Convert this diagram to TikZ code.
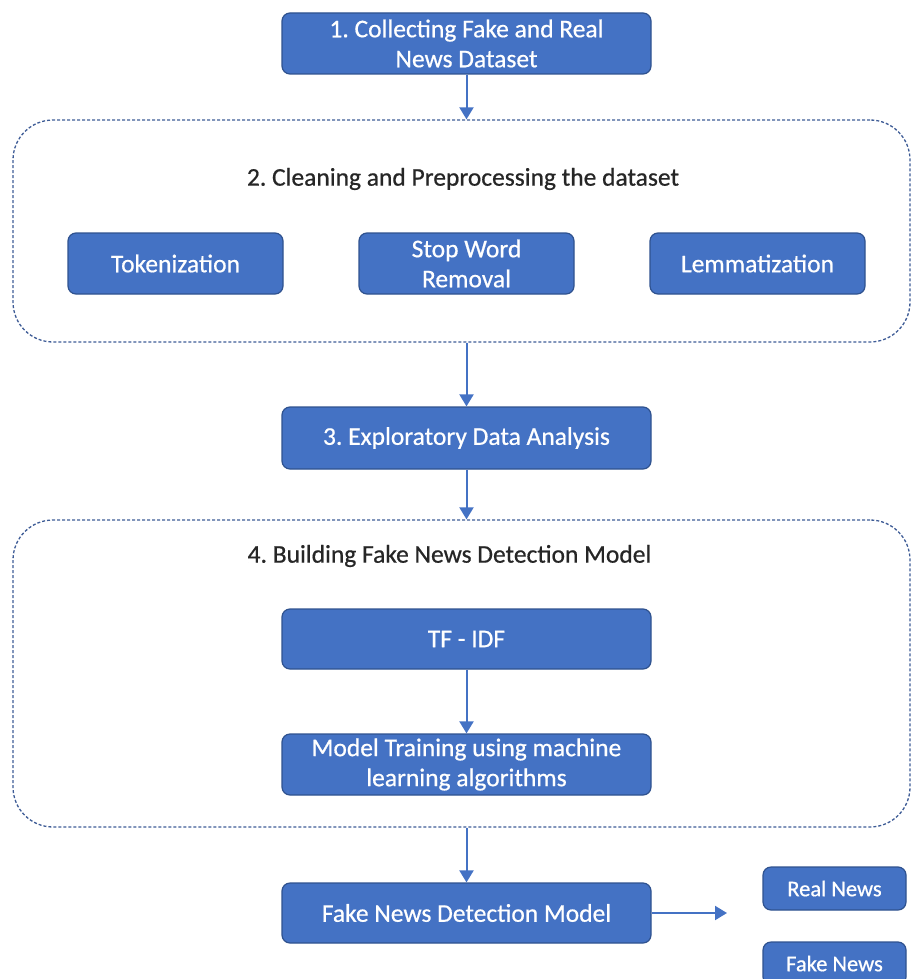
\documentclass[tikz,border=0pt]{standalone}
\usepackage{fontspec}
\setmainfont{Carlito}
\newfontfamily\boxfont[FakeBold=0.6]{Carlito}
\usetikzlibrary{arrows.meta}
\definecolor{boxfill}{HTML}{4472C4}
\definecolor{boxline}{HTML}{2F528F}
\definecolor{dashline}{HTML}{3E5C96}
\frenchspacing
\begin{document}
\begin{tikzpicture}[x=1pt,y=-1pt,
  bluebox/.style={draw=boxline,line width=1.2pt,fill=boxfill,rounded corners=8pt,
    text=white,align=center,font=\boxfont\fontsize{25.5}{30}\selectfont,inner sep=0pt},
  container/.style={draw=dashline,line width=1.3pt,dash pattern=on 3pt off 2pt,rounded corners=40pt},
  title/.style={text=black!85,font=\boxfont\fontsize{25.5}{30}\selectfont,inner sep=0pt},
  flow/.style={draw=boxfill,line width=2pt,-{Triangle[width=14pt,length=12pt]}}]
\useasboundingbox (0,0) rectangle (911,979);
\begin{scope}
\clip (0,0) rectangle (911,979);
% box 1
\node[bluebox,minimum width=369pt,minimum height=61pt] (b1) at (466.5,43.5) {1. Collecting Fake and Real\\News Dataset};
% container 1
\node[container,minimum width=897pt,minimum height=222pt] (c1) at (461.5,231) {};
\node[title] (t1) at (463,179) {2. Cleaning and Preprocessing the dataset};
\node[bluebox,minimum width=215pt,minimum height=61pt] (tok) at (175.5,263.5) {Tokenization};
\node[bluebox,minimum width=215pt,minimum height=61pt] (stop) at (466.5,263.5) {Stop Word\\Removal};
\node[bluebox,minimum width=215pt,minimum height=61pt] (lem) at (757.5,263.5) {Lemmatization};
% box 3
\node[bluebox,minimum width=369pt,minimum height=62pt] (b3) at (466.5,438) {3. Exploratory Data Analysis};
% container 2
\node[container,minimum width=897pt,minimum height=307pt] (c2) at (461.5,673.5) {};
\node[title] (t2) at (449.5,556) {4. Building Fake News Detection Model};
\node[bluebox,minimum width=369pt,minimum height=60pt] (tfidf) at (466.5,639) {TF - IDF};
\node[bluebox,minimum width=369pt,minimum height=61pt] (train) at (466.5,764.5) {Model Training using machine\\learning algorithms};
% final
\node[bluebox,minimum width=369pt,minimum height=60pt] (final) at (466.5,913) {Fake News Detection Model};
\coordinate (arrend) at (727,913);
\node[bluebox,minimum width=143pt,minimum height=43pt,font=\boxfont\fontsize{22.5}{27}\selectfont] (real) at (834.5,888.5) {Real News};
\node[bluebox,minimum width=143pt,minimum height=43pt,font=\boxfont\fontsize{22.5}{27}\selectfont] (fake) at (834.5,963.5) {Fake News};
% connectors
\draw[flow] (b1.south) -- (b1.south |- c1.north);
\draw[flow] (b3.north |- c1.south) -- (b3.north);
\draw[flow] (b3.south) -- (b3.south |- c2.north);
\draw[flow] (tfidf.south) -- (train.north);
\draw[flow] (final.north |- c2.south) -- (final.north);
\draw[flow] (final.east) -- (arrend);
\end{scope}
\end{tikzpicture}
\end{document}
